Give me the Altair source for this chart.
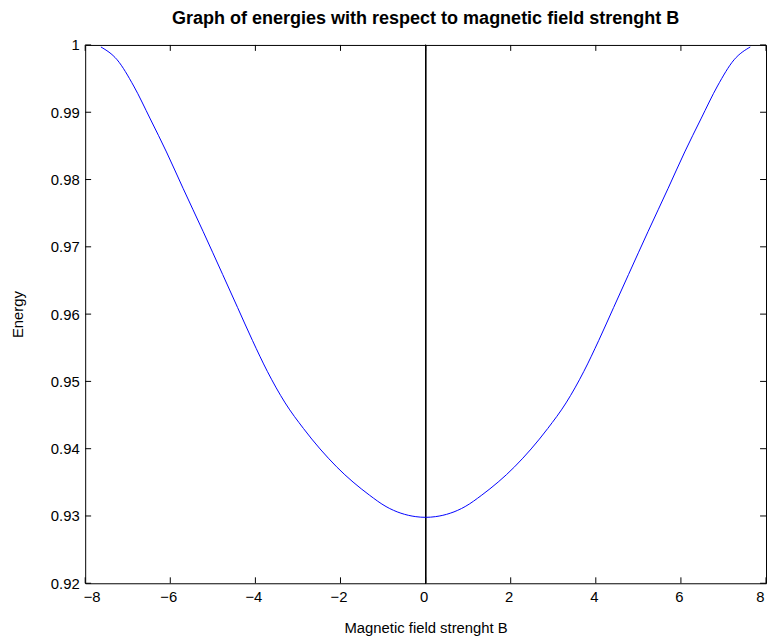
import altair as alt
import pandas as pd

# Magnetic field strength B and energy
B = [-7.63, -7.25, -6.86, -6.47, -6.09, -5.70, -5.23, -4.77, -4.42, -4.07,
     -3.72, -3.30, -2.87, -2.09, -1.32, -0.93, -0.23, 0.0,
     0.23, 0.93, 1.32, 2.09, 2.87, 3.30, 3.72, 4.07, 4.42, 4.77,
     5.23, 5.70, 6.09, 6.47, 6.86, 7.25, 7.63]
E = [0.9997, 0.9978, 0.9939, 0.9890, 0.9841, 0.9787, 0.9723, 0.9659, 0.9610, 0.9561,
     0.9515, 0.9468, 0.9430, 0.9373, 0.9331, 0.9314, 0.9299, 0.9298,
     0.9299, 0.9314, 0.9331, 0.9373, 0.9430, 0.9468, 0.9515, 0.9561, 0.9610, 0.9659,
     0.9723, 0.9787, 0.9841, 0.9890, 0.9939, 0.9978, 0.9997]

x_ticks = [-8, -6, -4, -2, 0, 2, 4, 6, 8]
y_ticks = [0.92, 0.93, 0.94, 0.95, 0.96, 0.97, 0.98, 0.99, 1.0]

W, H = 688, 544
FONT = "Liberation Sans"

df = pd.DataFrame({"B": B, "E": E})
xt = pd.DataFrame({"v": x_ticks})
yt = pd.DataFrame({"v": y_ticks})

xs = alt.Scale(domain=[-8, 8], nice=False, zero=False)
ys = alt.Scale(domain=[0.92, 1.0], nice=False, zero=False)

line = alt.Chart(df).mark_line(color="#0000ff", strokeWidth=1, interpolate="monotone").encode(
    x=alt.X("B:Q", scale=xs,
            axis=alt.Axis(values=x_ticks, title="Magnetic field strenght B", tickSize=0,
                          labelPadding=6, titlePadding=17, labelOffset=-2,
                          domain=False, grid=False)),
    y=alt.Y("E:Q", scale=ys,
            axis=alt.Axis(values=y_ticks, format=".2~f", title="Energy", tickSize=0,
                          labelPadding=6, titlePadding=25, domain=False, grid=False)),
)

zero_line = alt.Chart(xt).mark_rule(color="black", strokeWidth=1).encode(
    x=alt.datum(0, scale=xs)
)

bottom_ticks = alt.Chart(xt).mark_rule(color="black", strokeWidth=1).encode(
    x=alt.X("v:Q", scale=xs), y=alt.value(H), y2=alt.value(H - 6))
top_ticks = alt.Chart(xt).mark_rule(color="black", strokeWidth=1).encode(
    x=alt.X("v:Q", scale=xs), y=alt.value(0), y2=alt.value(6))
left_ticks = alt.Chart(yt).mark_rule(color="black", strokeWidth=1).encode(
    y=alt.Y("v:Q", scale=ys), x=alt.value(0), x2=alt.value(6))
right_ticks = alt.Chart(yt).mark_rule(color="black", strokeWidth=1).encode(
    y=alt.Y("v:Q", scale=ys), x=alt.value(W), x2=alt.value(W - 6))

chart = alt.layer(zero_line, bottom_ticks, top_ticks, left_ticks, right_ticks, line).properties(
    width=W, height=H,
    background="white",
    autosize=alt.AutoSizeParams(type="none"),
    padding={"left": 78, "top": 34, "right": 1, "bottom": 55},
    title=alt.TitleParams("Graph of energies with respect to magnetic field strenght B",
                          font=FONT, fontSize=18.2, fontWeight="bold", color="black",
                          anchor="middle", offset=10),
).configure_view(stroke="black", strokeWidth=1).configure_axis(
    labelFont=FONT, labelFontSize=15, labelColor="black",
    titleFont=FONT, titleFontSize=15, titleColor="black", titleFontWeight="normal",
)

chart.save("out.html", embed_options={"renderer": "svg", "actions": False})
